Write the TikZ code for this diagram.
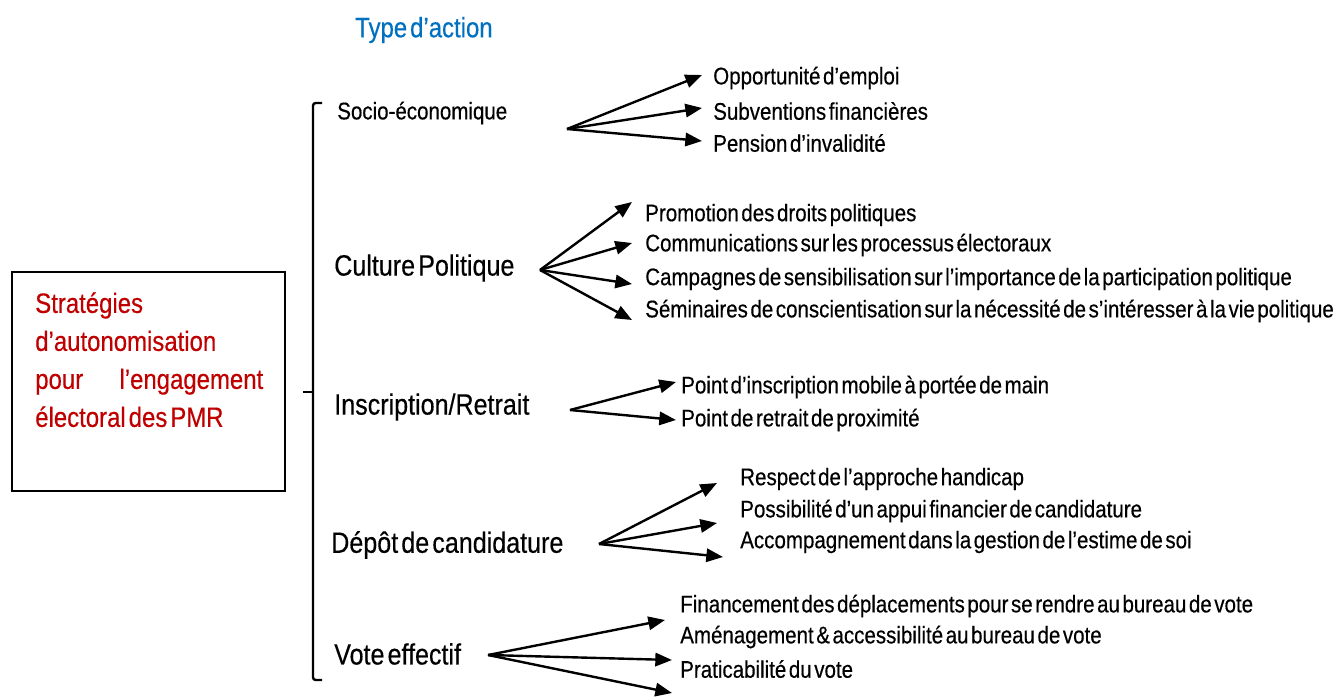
\documentclass[tikz,border=0pt]{standalone}
\usepackage{fontspec}
\setmainfont[FakeStretch=0.855,WordSpace=0.45,FakeBold=0.4]{Liberation Sans}
\usetikzlibrary{arrows.meta}
\definecolor{titleblue}{RGB}{0,112,192}
\definecolor{goalred}{RGB}{192,0,0}
\tikzset{
  fan/.style={-{Triangle[length=12.5pt,width=10pt]}, line width=1.8pt},
  item/.style={anchor=west, inner sep=0pt, font=\fontsize{18}{20}\selectfont},
  branch/.style={anchor=west, inner sep=0pt, font=\fontsize{22}{24}\selectfont},
}

\begin{document}
\begin{tikzpicture}[x=0.75pt, y=-0.75pt]
  \useasboundingbox (0,0) rectangle (1341,696);
  % Title
  \node[anchor=west, inner sep=0pt, text=titleblue, font=\fontsize{21}{23}\selectfont] (title) at (355,30) {Type d'action};
  % Goal box
  \node[draw, line width=2pt, minimum width=204.75pt, minimum height=164.25pt, inner sep=0pt] (goal) at (148.5,381.5) {};
  \node[anchor=north west, inner sep=0pt, align=left, text=goalred, font=\fontsize{21}{28.5}\selectfont] (goaltext) at (35,292)
    {Stratégies\\ d'autonomisation\\ \makebox[171pt][s]{pour\hfill l'engagement}\\ électoral des PMR};
  % Bracket
  \draw[line width=1.8pt, rounded corners=2pt] (322,103) -- (313,103) -- (313,680) -- (322,680);
  \draw[line width=1.8pt] (303,392) -- (313,392);
  % Branch labels
  \node[item] (socio) at (337,113) {Socio-économique};
  \node[branch] (culture) at (334,268) {Culture Politique};
  \node[branch] (inscr) at (334,407) {Inscription/Retrait};
  \node[branch] (depot) at (331,545) {Dépôt de candidature};
  \node[branch] (vote) at (334,654) {Vote effectif};
  % Socio-économique
  \coordinate (socio-o) at (567,129);
  \foreach \y [count=\i] in {75,108,141} {
    \coordinate (socio-t\i) at (702,\y);
    \draw[fan] (socio-o) -- (socio-t\i);
  }
  \foreach \y/\txt [count=\i] in {78/{Opportunité d'emploi}, 111/{Subventions financières}, 143/{Pension d'invalidité}}
    \node[item] (socio-\i) at (713,\y) {\txt};
  % Culture Politique
  \coordinate (culture-o) at (540,270);
  \foreach \y [count=\i] in {202,243,284,320} {
    \coordinate (culture-t\i) at (632,\y);
    \draw[fan] (culture-o) -- (culture-t\i);
  }
  \foreach \y/\txt [count=\i] in {215/{Promotion des droits politiques}, 245/{Communications sur les processus électoraux}, 279/{Campagnes de sensibilisation sur l'importance de la participation politique}, 311/{Séminaires de conscientisation sur la nécessité de s'intéresser à la vie politique}}
    \node[item] (culture-\i) at (645,\y) {\txt};
  % Inscription/Retrait
  \coordinate (inscr-o) at (570,410);
  \foreach \y [count=\i] in {382,420} {
    \coordinate (inscr-t\i) at (676,\y);
    \draw[fan] (inscr-o) -- (inscr-t\i);
  }
  \foreach \y/\txt [count=\i] in {387/{Point d'inscription mobile à portée de main}, 420/{Point de retrait de proximité}}
    \node[item] (inscr-\i) at (681,\y) {\txt};
  % Dépôt de candidature
  \coordinate (depot-o) at (599,544);
  \foreach \x/\y [count=\i] in {717/483, 717/523, 723/557} {
    \coordinate (depot-t\i) at (\x,\y);
    \draw[fan] (depot-o) -- (depot-t\i);
  }
  \foreach \y/\txt [count=\i] in {479/{Respect de l'approche handicap}, 511/{Possibilité d'un appui financier de candidature}, 542/{Accompagnement dans la gestion de l'estime de soi}}
    \node[item] (depot-\i) at (740,\y) {\txt};
  % Vote effectif
  \coordinate (vote-o) at (488,655);
  \foreach \x/\y [count=\i] in {665/620, 672/660, 672/693} {
    \coordinate (vote-t\i) at (\x,\y);
    \draw[fan] (vote-o) -- (vote-t\i);
  }
  \foreach \y/\txt [count=\i] in {606/{Financement des déplacements pour se rendre au bureau de vote}, 637/{Aménagement \& accessibilité au bureau de vote}, 669/{Praticabilité du vote}}
    \node[item] (vote-\i) at (680,\y) {\txt};
\end{tikzpicture}
\end{document}
